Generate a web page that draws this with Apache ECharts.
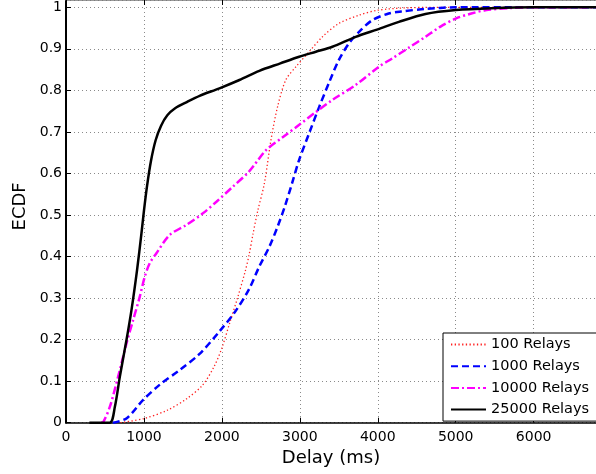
<!DOCTYPE html>
<html>
<head>
<meta charset="utf-8">
<script src="https://cdn.jsdelivr.net/npm/echarts@6/dist/echarts.min.js"></script>
<style>
html,body{margin:0;padding:0;background:#fff;}
#chart{width:596px;height:474px;}
</style>
</head>
<body>
<div id="chart"></div>
<script>
// Series names
var seriesNames = ['100 Relays', '1000 Relays', '10000 Relays', '25000 Relays'];

// 100 Relays (delay ms, ECDF)
var r100X = [700, 1000, 1300, 1550, 1750, 1900, 2000, 2100, 2200, 2300, 2350, 2400, 2460, 2545, 2630, 2715, 2820, 2950, 3120, 3290, 3500, 3760, 4000, 4400, 5000, 6800];
var r100Y = [0, 0.01, 0.03, 0.058, 0.09, 0.135, 0.18, 0.24, 0.30, 0.365, 0.405, 0.455, 0.51, 0.576, 0.681, 0.761, 0.825, 0.857, 0.893, 0.929, 0.961, 0.981, 0.993, 0.999, 1.0, 1.0];

// 1000 Relays
var r1000X = [600, 780, 990, 1200, 1460, 1710, 1970, 2180, 2350, 2480, 2610, 2715, 2810, 2900, 2990, 3120, 3250, 3380, 3500, 3630, 3760, 3930, 4140, 4300, 4610, 5000, 6800];
var r1000Y = [0, 0.011, 0.055, 0.091, 0.127, 0.165, 0.22, 0.27, 0.322, 0.376, 0.424, 0.472, 0.522, 0.576, 0.632, 0.697, 0.761, 0.821, 0.873, 0.913, 0.941, 0.969, 0.985, 0.99, 0.996, 1.0, 1.0];

// 10000 Relays
var r10000X = [450, 480, 563, 669, 776, 861, 946, 1010, 1074, 1160, 1330, 1543, 1756, 1930, 2139, 2350, 2566, 2780, 2992, 3200, 3418, 3717, 4015, 4185, 4400, 4612, 4800, 5000, 5200, 5380, 5680, 6000, 6800];
var r10000Y = [0, 0.002, 0.0385, 0.111, 0.191, 0.247, 0.303, 0.351, 0.384, 0.408, 0.452, 0.476, 0.504, 0.532, 0.568, 0.605, 0.656, 0.687, 0.717, 0.747, 0.777, 0.813, 0.857, 0.877, 0.903, 0.929, 0.953, 0.973, 0.985, 0.993, 0.998, 1.0, 1.0];

// 25000 Relays
var r25000X = [300, 560, 627, 691, 776, 840, 912, 968, 1000, 1040, 1090, 1150, 1220, 1300, 1400, 1550, 1714, 1969, 2225, 2481, 2750, 2992, 3206, 3418, 3717, 4000, 4271, 4612, 5000, 5460, 6000, 6800];
var r25000Y = [0, 0, 0.0385, 0.111, 0.199, 0.271, 0.368, 0.456, 0.51, 0.57, 0.63, 0.68, 0.715, 0.74, 0.757, 0.772, 0.787, 0.805, 0.825, 0.847, 0.865, 0.881, 0.893, 0.905, 0.929, 0.947, 0.965, 0.984, 0.9935, 0.998, 1.0, 1.0];

// Axis settings
var xMin = 0, xMax = 6800, xStep = 1000;
var yMin = 0, yMax = 1.0176, yStep = 0.1;
var xTitle = 'Delay (ms)';
var yTitle = 'ECDF';

function pairs(xs, ys) {
  var out = [];
  for (var i = 0; i < xs.length; i++) out.push([xs[i], ys[i]]);
  return out;
}

var font = 'DejaVu Sans';
var chart = echarts.init(document.getElementById('chart'), null, {renderer: 'canvas'});

var gridLine = {show: true, lineStyle: {color: '#8a8a8a', width: 1, type: [1, 3]}};

chart.setOption({
  animation: false,
  backgroundColor: '#ffffff',
  grid: {left: 66, right: -2, top: 0, bottom: 51.3, containLabel: false},
  legend: {
    orient: 'vertical',
    left: 443,
    top: 333,
    padding: [4, 60, 4, 7],
    itemWidth: 35,
    itemHeight: 14,
    itemGap: 6.7,
    backgroundColor: '#ffffff',
    borderColor: '#000000',
    borderWidth: 1,
    borderRadius: 0,
    itemStyle: {opacity: 0},
    textStyle: {fontFamily: font, fontSize: 14.5, color: '#000'},
    data: seriesNames
  },
  xAxis: [{
    type: 'value',
    min: xMin, max: xMax, interval: xStep,
    name: xTitle,
    nameLocation: 'middle',
    nameGap: 23,
    nameTextStyle: {fontFamily: font, fontSize: 18, color: '#000'},
    axisLine: {show: true, onZero: false, lineStyle: {color: '#000', width: 1.5}},
    axisTick: {show: true, inside: true, length: 5, lineStyle: {color: '#000', width: 1}},
    axisLabel: {fontFamily: font, fontSize: 14, color: '#000', margin: 8, showMaxLabel: false,
      formatter: function (v) { return String(Math.round(v)); }},
    splitLine: gridLine
  }, {
    type: 'value',
    position: 'top',
    min: xMin, max: xMax, interval: xStep,
    axisLine: {show: true, onZero: false, lineStyle: {color: '#777', width: 1.5}},
    axisTick: {show: true, inside: true, length: 5, lineStyle: {color: '#000', width: 1}},
    axisLabel: {show: false},
    splitLine: {show: false}
  }],
  yAxis: {
    type: 'value',
    min: yMin, max: yMax, interval: yStep,
    name: yTitle,
    nameLocation: 'middle',
    nameGap: 36,
    nameTextStyle: {fontFamily: font, fontSize: 18, color: '#000', padding: [0, 0, 0, 10]},
    axisLine: {show: true, onZero: false, lineStyle: {color: '#000', width: 2}},
    axisTick: {show: true, inside: true, length: 5, lineStyle: {color: '#000', width: 1}},
    axisLabel: {fontFamily: font, fontSize: 14, color: '#000', margin: 4, showMaxLabel: false},
    splitLine: gridLine
  },
  series: [{
    name: seriesNames[0], type: 'line', xAxisIndex: 0, showSymbol: false, symbol: 'none',
    smooth: 0.3,
    data: pairs(r100X, r100Y),
    itemStyle: {color: '#ff2020'},
    lineStyle: {color: '#ff2020', width: 1.3, type: [1.3, 2.4]}
  }, {
    name: seriesNames[1], type: 'line', xAxisIndex: 0, showSymbol: false, symbol: 'none',
    smooth: 0.3,
    data: pairs(r1000X, r1000Y),
    itemStyle: {color: '#0000ff'},
    lineStyle: {color: '#0000ff', width: 2.5, type: [7, 4]}
  }, {
    name: seriesNames[2], type: 'line', xAxisIndex: 0, showSymbol: false, symbol: 'none',
    smooth: 0.3,
    data: pairs(r10000X, r10000Y),
    itemStyle: {color: '#ff00ff'},
    lineStyle: {color: '#ff00ff', width: 2.5, type: [8, 3, 2, 3]}
  }, {
    name: seriesNames[3], type: 'line', xAxisIndex: 0, showSymbol: false, symbol: 'none',
    smooth: 0.3,
    data: pairs(r25000X, r25000Y),
    itemStyle: {color: '#000000'},
    lineStyle: {color: '#000000', width: 2.5, type: 'solid'}
  }]
});
</script>
</body>
</html>
